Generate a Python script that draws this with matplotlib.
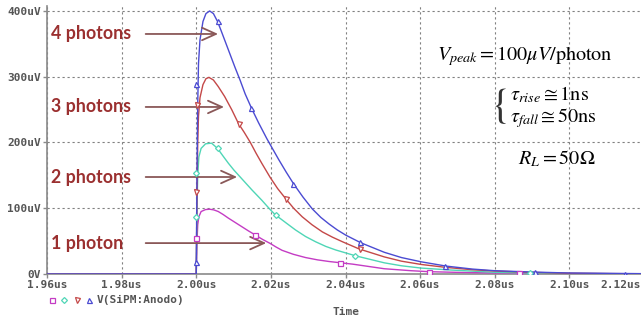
import numpy as np
import matplotlib.pyplot as plt
from matplotlib.ticker import FuncFormatter
from matplotlib.transforms import ScaledTranslation

# time in us, signal in uV
t_4ph = [1.96, 2.0000, 2.0002, 2.0004, 2.0006, 2.0010, 2.0018, 2.0026, 2.0036, 2.0046,
         2.0057, 2.0066, 2.0076, 2.0090, 2.0104, 2.0118, 2.0131, 2.0149, 2.0167, 2.0189,
         2.0205, 2.0221, 2.0241, 2.0261, 2.0286, 2.0311, 2.0334, 2.0356, 2.0378, 2.0401,
         2.0441, 2.0504, 2.0550, 2.0603, 2.0670, 2.0740, 2.0800, 2.0900, 2.1000, 2.1200]
v_4ph = [0, 0, 150, 260, 320, 356, 384, 396, 400, 396,
         384, 371, 356, 335, 314, 294, 274, 251, 230, 206,
         190, 174, 155, 137, 117, 99, 86, 76, 67, 59,
         47.5, 33, 25, 18.5, 12, 7.5, 5, 3, 1.5, 0.5]

t_3ph = [1.96, 2.0000, 2.0002, 2.0004, 2.0006, 2.0010, 2.0018, 2.0026, 2.0034, 2.0046,
         2.0059, 2.0076, 2.0095, 2.0113, 2.0129, 2.0145, 2.0160, 2.0176, 2.0198, 2.0218,
         2.0239, 2.0261, 2.0284, 2.0310, 2.0338, 2.0365, 2.0392, 2.0437, 2.0504, 2.0550,
         2.0603, 2.0670, 2.0740, 2.0800, 2.0900, 2.1000, 2.1200]
v_3ph = [0, 0, 120, 200, 240, 268, 288, 297, 299, 295,
         285, 270, 250, 229, 215, 200, 184, 168, 147, 130,
         115, 100, 87, 75, 64, 56, 49, 38, 26, 19.5,
         14.5, 10, 6.5, 4.5, 2.5, 1, 0.3]

t_2ph = [1.96, 2.0000, 2.0002, 2.0004, 2.0007, 2.0013, 2.0025, 2.0041, 2.0057, 2.0071,
         2.0086, 2.0101, 2.0117, 2.0133, 2.0149, 2.0176, 2.0198, 2.0212, 2.0240, 2.0266,
         2.0293, 2.0320, 2.0347, 2.0374, 2.0428, 2.0504, 2.0550, 2.0603, 2.0684, 2.0800,
         2.0900, 2.1000, 2.1200]
v_2ph = [0, 0, 100, 150, 178, 191, 198, 199, 191, 180,
         168.5, 158, 148, 138, 128, 112, 98, 90, 78, 67,
         57, 49, 42, 36.5, 27.5, 17, 12.5, 9, 6, 2.6,
         1.5, 0.8, 0.2]

t_1ph = [1.96, 2.0000, 2.0002, 2.0004, 2.0007, 2.0013, 2.0025, 2.0036, 2.0047, 2.0059,
         2.0072, 2.0086, 2.0104, 2.0122, 2.0140, 2.0158, 2.0178, 2.0198, 2.0214, 2.0230,
         2.0260, 2.0293, 2.0325, 2.0356, 2.0419, 2.0504, 2.0576, 2.0625, 2.0700, 2.0800,
         2.1000, 2.1200]
v_1ph = [0, 0, 50, 75, 87, 95, 98, 98.5, 97.5, 95,
         90.5, 85, 78.5, 72, 65.5, 59.4, 52.5, 46.5, 41, 36,
         30, 25, 21.5, 19, 15, 8, 5, 3.5, 2.5, 1.5,
         0.8, 0.2]

# simulator markers
mk_t_4ph = [2.0000, 2.0000, 2.0057, 2.0148, 2.0260, 2.0439, 2.0668, 2.0908, 2.1149]
mk_v_4ph = [18, 289, 384, 252, 137, 48, 12, 2.5, 0.5]
mk_t_3ph = [2.0000, 2.0003, 2.0114, 2.0241, 2.0439]
mk_v_3ph = [124, 257, 228, 114, 38]
mk_t_2ph = [2.0000, 2.0000, 2.0057, 2.0214, 2.0425, 2.0895]
mk_v_2ph = [87, 154, 191, 89, 28, 1.5]
mk_t_1ph = [2.0000, 2.0157, 2.0385, 2.0625, 2.0865]
mk_v_1ph = [54, 59.4, 16.5, 3.5, 1]

labels = ["4 photons", "3 photons", "2 photons", "1 photon"]
label_v = [365, 254, 147.5, 47]
arrow_tip_t = [2.0066, 2.0082, 2.0117, 2.0195]

x_ticks = [1.96, 1.98, 2.00, 2.02, 2.04, 2.06, 2.08, 2.10, 2.12]
y_ticks = [0, 100, 200, 300, 400]

c_blue = "#4b4bd2"
c_red = "#c44848"
c_teal = "#4fd6b6"
c_mag = "#c43cc4"
txt_red = "#9b3030"
mono = "DejaVu Sans Mono"

plt.rcParams["mathtext.fontset"] = "stix"

fig = plt.figure(figsize=(6.41, 3.22), dpi=100)
ax = fig.add_axes([47 / 641, 1 - 274 / 322, 597 / 641, 268.3 / 322])

series = [
    (t_1ph, v_1ph, mk_t_1ph, mk_v_1ph, c_mag, "s"),
    (t_2ph, v_2ph, mk_t_2ph, mk_v_2ph, c_teal, "D"),
    (t_3ph, v_3ph, mk_t_3ph, mk_v_3ph, c_red, "v"),
    (t_4ph, v_4ph, mk_t_4ph, mk_v_4ph, c_blue, "^"),
]
for t, v, mt, mv, c, m in series:
    ax.plot(t, v, color=c, lw=1.0, zorder=3)
    ax.plot(mt, mv, ls="none", marker=m, ms=3.6 if m != "D" else 3.0,
            mfc="white", mec=c, mew=0.9, zorder=4)

ax.set_xlim(1.96, 2.12)
ax.set_ylim(0, 408)
ax.set_xticks(x_ticks)
ax.set_yticks(y_ticks)
ax.xaxis.set_major_formatter(FuncFormatter(lambda x, p: f"{x:.2f}us"))
ax.yaxis.set_major_formatter(FuncFormatter(lambda y, p: "0V" if y == 0 else f"{y:.0f}uV"))
ax.grid(True, color="#808080", ls=(0, (2, 2.5)), lw=0.8)
ax.set_axisbelow(True)
for s in ["top", "right"]:
    ax.spines[s].set_visible(False)
for s in ["left", "bottom"]:
    ax.spines[s].set_color("#8a8a8a")
    ax.spines[s].set_linewidth(1.2)
ax.tick_params(length=3, width=1, color="#8a8a8a", pad=1.5)
for lb in ax.get_xticklabels() + ax.get_yticklabels():
    lb.set_fontfamily(mono)
    lb.set_fontweight("bold")
    lb.set_fontsize(8)
    lb.set_color("#555555")
last = ax.get_xticklabels()[-1]
last.set_horizontalalignment("right")
last.set_transform(last.get_transform() + ScaledTranslation(-3 / 100, 0, fig.dpi_scale_trans))

# photon labels and arrows
for lab, lv, tip in zip(labels, label_v, arrow_tip_t):
    ax.text(1.9612, lv, lab, fontsize=12.8, fontweight="bold", family="Lato",
            color=txt_red, va="center", ha="left")
    ax.annotate("", xy=(tip, lv), xytext=(1.9857, lv),
                arrowprops=dict(arrowstyle="->,head_length=1.0,head_width=0.45",
                                color="#8a5858", lw=1.3))

ax.text(2.0646, 332, r"$V_{peak}=100\mu V/\mathrm{photon}$", fontsize=14.5, va="center")
ax.text(2.0789, 255, "{", family="STIXGeneral", fontsize=30, va="center",
        color="#333333")
ax.text(2.0842, 273, r"$\tau_{rise}\cong 1\mathrm{ns}$", fontsize=14.5, va="center")
ax.text(2.0842, 237, r"$\tau_{fall}\cong 50\mathrm{ns}$", fontsize=14.5, va="center")
ax.text(2.0862, 176, r"$R_L=50\Omega$", fontsize=14.5, va="center")

# legend row under the axis
leg_x = [52, 64, 77, 89]
for x, (t, v, mt, mv, c, m) in zip(leg_x, series):
    fig.lines.append(plt.Line2D([x / 641], [1 - 300 / 322], transform=fig.transFigure,
                                marker=m, ms=3.6 if m != "D" else 3.0, mfc="white",
                                mec=c, mew=0.9, ls="none"))
fig.text(97 / 641, 1 - 300 / 322, "V(SiPM:Anodo)", family=mono, fontweight="bold",
         fontsize=8, color="#555555", va="center")
fig.text(346 / 641, 1 - 312 / 322, "Time", family=mono, fontweight="bold",
         fontsize=8, color="#555555", va="center", ha="center")

fig.savefig("out.png", dpi=100)
